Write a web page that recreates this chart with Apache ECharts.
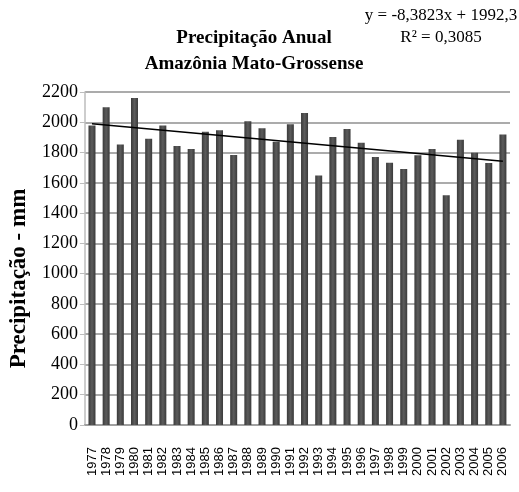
<!DOCTYPE html>
<html>
<head>
<meta charset="utf-8">
<script src="https://cdn.jsdelivr.net/npm/echarts@6/dist/echarts.min.js"></script>
<style>html,body{margin:0;padding:0;background:#fff}#c{width:519px;height:492px}</style>
</head>
<body>
<div id="c"></div>
<script>
var years = ['1977','1978','1979','1980','1981','1982','1983','1984','1985','1986',
  '1987','1988','1989','1990','1991','1992','1993','1994','1995','1996',
  '1997','1998','1999','2000','2001','2002','2003','2004','2005','2006'];
var precipitation = [1978, 2100, 1853, 2160, 1891, 1978, 1844, 1824, 1938, 1947,
  1784, 2007, 1960, 1871, 1987, 2062, 1649, 1902, 1956, 1864,
  1771, 1733, 1691, 1782, 1824, 1518, 1884, 1798, 1731, 1920];
var trendStart = 1990;
var trendEnd = 1742;
var yTicks = [0, 200, 400, 600, 800, 1000, 1200, 1400, 1600, 1800, 2000, 2200];
var titleLines = ['Precipitação Anual', 'Amazônia Mato-Grossense'];
var equationLines = ['y = -8,3823x + 1992,3', 'R² = 0,3085'];
var yName = 'Precipitação - mm';

var chart = echarts.init(document.getElementById('c'));
chart.setOption({
  animation: false,
  backgroundColor: '#ffffff',
  title: [{
    text: titleLines.join('\n'),
    left: 249, top: 20, textAlign: 'center',
    textStyle: {fontFamily: 'Liberation Serif', fontWeight: 'bold', fontSize: 19, lineHeight: 26, color: '#000'}
  }, {
    text: equationLines.join('\n'),
    left: 436, top: 0, textAlign: 'center',
    textStyle: {fontFamily: 'Liberation Serif', fontWeight: 'normal', fontSize: 17, lineHeight: 22, color: '#000'}
  }],
  grid: {left: 72, right: 9, top: 92, bottom: 67},
  xAxis: {
    type: 'category', data: years, boundaryGap: true,
    axisLine: {lineStyle: {color: '#a0a0a0', width: 2}},
    axisTick: {show: false},
    axisLabel: {rotate: 90, margin: 22, interval: 0, fontFamily: 'Liberation Sans', fontSize: 13, color: '#000'}
  },
  yAxis: {
    type: 'value', min: yTicks[0], max: yTicks[yTicks.length - 1], interval: 200,
    name: yName, nameLocation: 'middle', nameGap: 45,
    nameTextStyle: {fontFamily: 'Liberation Serif', fontWeight: 'bold', fontSize: 23, color: '#000', padding: [0, 40, 0, 0]},
    axisLine: {show: true, lineStyle: {color: '#bdbdbd', width: 1.5}},
    axisTick: {show: true, length: 5, lineStyle: {color: '#bdbdbd'}},
    axisLabel: {margin: 7, fontFamily: 'Liberation Serif', fontSize: 18, color: '#000',
      formatter: function (v) { return String(v); }},
    splitLine: {lineStyle: {color: '#ababab', width: 2}}
  },
  series: [{
    type: 'bar', data: precipitation, barWidth: 7,
    itemStyle: {
      color: new echarts.graphic.LinearGradient(0, 0, 1, 0, [
        {offset: 0, color: '#3a3a3a'}, {offset: 0.5, color: '#5c5c5c'}, {offset: 1, color: '#3a3a3a'}
      ])
    },
    markLine: {
      silent: true, symbol: 'none', label: {show: false},
      lineStyle: {color: '#000', width: 1.5, type: 'solid'},
      data: [[{coord: [years[0], trendStart]}, {coord: [years[years.length - 1], trendEnd]}]]
    }
  }]
});
</script>
</body>
</html>
